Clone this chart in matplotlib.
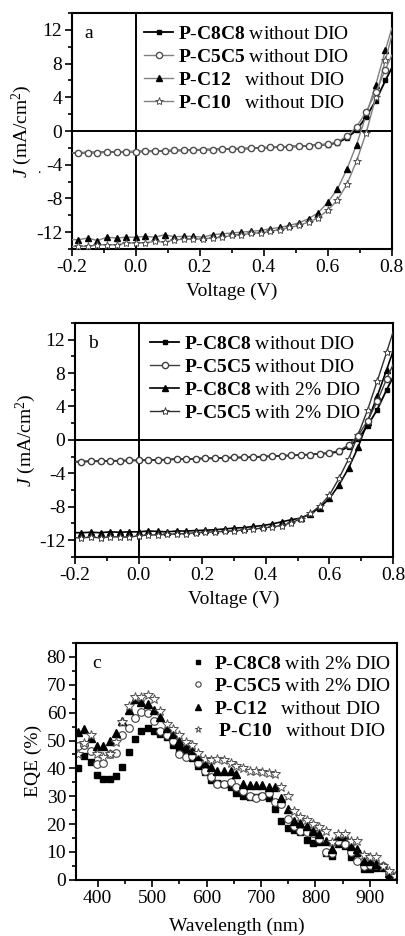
import matplotlib
matplotlib.use("Agg")
import matplotlib.pyplot as plt
from matplotlib.ticker import MultipleLocator

plt.rcParams['font.family'] = ['Liberation Serif', 'DejaVu Serif']
plt.rcParams['mathtext.fontset'] = 'custom'
plt.rcParams['mathtext.rm'] = 'Liberation Serif'
plt.rcParams['mathtext.it'] = 'Liberation Serif:italic'
plt.rcParams['mathtext.bf'] = 'Liberation Serif:bold'
plt.rcParams['axes.unicode_minus'] = False

# ---- J-V data (V sweep, markers every 0.03 V) ----
volt = [-0.20, -0.18, -0.15, -0.12, -0.09, -0.06, -0.03, 0.00, 0.03, 0.06, 0.09, 0.12,
        0.15, 0.18, 0.21, 0.24, 0.27, 0.30, 0.33, 0.36, 0.39, 0.42, 0.45, 0.48,
        0.51, 0.54, 0.57, 0.60, 0.63, 0.66, 0.69, 0.72, 0.75, 0.78, 0.80]

j_c8c8 = [-2.6, -2.6, -2.55, -2.55, -2.5, -2.5, -2.45, -2.45, -2.4, -2.4, -2.35, -2.3,
          -2.3, -2.25, -2.2, -2.2, -2.15, -2.1, -2.1, -2.05, -2.0, -1.95, -1.9, -1.85,
          -1.8, -1.75, -1.65, -1.6, -1.4, -0.8, 0.1, 1.7, 3.6, 6.0, 7.5]
j_c5c5 = [-2.6, -2.6, -2.55, -2.55, -2.5, -2.5, -2.45, -2.45, -2.4, -2.4, -2.35, -2.3,
          -2.3, -2.25, -2.2, -2.2, -2.15, -2.1, -2.1, -2.05, -2.0, -1.95, -1.9, -1.85,
          -1.8, -1.75, -1.65, -1.55, -1.3, -0.6, 0.5, 2.3, 4.6, 7.3, 9.0]
j_c12 = [-12.9, -12.9, -12.7, -13.0, -12.6, -12.7, -12.6, -12.6, -12.5, -12.6, -12.3, -12.55,
         -12.5, -12.5, -12.6, -12.3, -12.2, -12.1, -12.0, -11.9, -11.8, -11.6, -11.45, -11.2,
         -10.9, -10.4, -9.7, -8.45, -6.9, -4.5, -1.6, 1.9, 5.5, 9.6, 12.2]
j_c10 = [-13.7, -13.7, -13.7, -13.5, -13.5, -13.5, -13.3, -13.3, -13.25, -13.1, -13.2, -12.9,
         -12.85, -12.85, -12.8, -12.7, -12.6, -12.4, -12.3, -12.15, -12.1, -11.9, -11.7, -11.45,
         -11.2, -10.8, -10.3, -9.4, -8.2, -6.3, -3.55, -0.2, 4.0, 8.45, 11.3]
j_c8c8_dio = [-11.1, -11.1, -11.05, -11.1, -11.0, -11.05, -11.0, -11.0, -10.9, -10.95, -11.0, -10.9,
              -10.9, -10.85, -10.8, -10.75, -10.65, -10.55, -10.5, -10.35, -10.25, -10.05, -9.8, -9.55,
              -9.35, -8.85, -8.1, -7.0, -5.4, -3.4, -0.9, 2.2, 5.2, 8.4, 10.6]
j_c5c5_dio = [-11.7, -11.7, -11.65, -11.7, -11.6, -11.6, -11.65, -11.45, -11.4, -11.35, -11.3, -11.25,
              -11.2, -11.1, -11.05, -11.0, -10.95, -10.9, -10.75, -10.65, -10.55, -10.4, -10.25, -9.9,
              -9.45, -8.8, -7.9, -6.6, -4.6, -2.3, 0.6, 3.6, 7.0, 10.5, 12.9]

# ---- EQE data ----
wl = [364, 375, 387, 399, 410, 422, 434, 445, 457, 469, 480, 492, 504, 515, 527, 539, 550,
      562, 574, 585, 597, 609, 620, 632, 644, 655, 667, 679, 690, 702, 714, 725, 737, 749,
      760, 772, 784, 795, 807, 819, 830, 842, 854, 865, 877, 889, 900, 912, 924, 935, 947]
eqe_c8c8_dio = [40.2, 44.4, 42.3, 37.8, 36.3, 36.3, 37.2, 40.5, 46.0, 50.7, 53.4, 54.6, 53.4,
                52.4, 51.4, 48.3, 46.8, 45.6, 43.6, 41.0, 38.6, 36.0, 34.8, 34.5, 33.5, 31.0,
                30.0, 29.8, 29.8, 30.0, 29.2, 25.5, 21.2, 18.5, 17.8, 17.2, 14.3, 13.2, 13.5,
                9.5, 8.7, 12.9, 12.3, 8.3, 9.5, 3.9, 3.9, 4.2, 4.2, 1.8, 1.0]
eqe_c5c5_dio = [48.0, 48.5, 46.2, 41.5, 42.0, 45.0, 45.5, 52.0, 54.5, 58.0, 60.2, 59.8, 57.0,
                53.5, 52.0, 50.0, 45.0, 44.0, 44.5, 42.0, 39.0, 36.8, 34.5, 34.3, 35.0, 33.2,
                32.0, 30.0, 29.5, 30.2, 31.2, 28.0, 27.3, 21.8, 19.5, 17.5, 17.0, 16.8, 14.5,
                10.0, 9.8, 13.8, 13.0, 10.0, 6.6, 5.0, 5.2, 5.2, 4.8, 2.6, 0.8]
eqe_c12 = [53.0, 54.0, 51.0, 48.0, 48.2, 50.0, 52.8, 57.0, 61.0, 65.0, 64.0, 63.2, 61.0,
           58.5, 54.5, 52.5, 50.0, 48.5, 46.5, 44.5, 42.0, 40.5, 39.0, 39.0, 39.0, 38.0,
           34.5, 34.0, 34.0, 34.0, 33.5, 33.2, 29.5, 25.5, 21.0, 20.3, 19.5, 17.4, 16.6,
           14.0, 10.9, 15.9, 15.9, 12.3, 11.1, 6.9, 6.9, 5.8, 5.0, 2.3, 1.5]
eqe_c10 = [45.0, 49.0, 52.0, 45.0, 44.0, 45.0, 49.5, 56.5, 62.5, 65.5, 65.5, 66.5, 65.0,
           60.5, 56.0, 54.0, 52.0, 49.5, 48.5, 45.5, 43.5, 43.0, 43.5, 43.0, 42.0, 41.0,
           40.2, 39.0, 39.0, 38.6, 38.2, 38.0, 33.5, 30.0, 24.8, 22.5, 21.5, 20.2, 18.8,
           17.5, 13.5, 16.3, 16.3, 14.0, 13.9, 9.0, 8.3, 8.3, 5.0, 3.0, 1.5]

lab = {
    'c8c8_wo': r'$\mathbf{P\text{-}C8C8}$ without DIO',
    'c5c5_wo': r'$\mathbf{P\text{-}C5C5}$ without DIO',
    'c12_wo': r'$\mathbf{P\text{-}C12}$   without DIO',
    'c10_wo': r'$\mathbf{P\text{-}C10}$   without DIO',
    'c8c8_dio': r'$\mathbf{P\text{-}C8C8}$ with 2% DIO',
    'c5c5_dio': r'$\mathbf{P\text{-}C5C5}$ with 2% DIO',
}

fig = plt.figure(figsize=(4.06, 9.36), dpi=100)
ax_a = fig.add_axes([0.177, 0.734, 0.788, 0.252])
ax_b = fig.add_axes([0.185, 0.405, 0.783, 0.250])
ax_c = fig.add_axes([0.187, 0.060, 0.791, 0.253])

me = slice(1, -1)
TICK_FS = 14
LEG_FS = 14


def style_axis(ax):
    for s in ax.spines.values():
        s.set_linewidth(1.5)
    ax.tick_params(which='both', direction='out', top=False, right=False,
                   labelsize=TICK_FS, width=1.2, pad=2)
    ax.tick_params(which='major', length=5)
    ax.tick_params(which='minor', length=3)


def style_jv(ax, letter):
    ax.axhline(0, color='black', lw=1.4, zorder=1)
    ax.axvline(0, color='black', lw=1.4, zorder=1)
    ax.set_xlim(-0.2, 0.8)
    ax.set_ylim(-14, 14)
    ax.xaxis.set_major_locator(MultipleLocator(0.2))
    ax.xaxis.set_minor_locator(MultipleLocator(0.1))
    ax.yaxis.set_major_locator(MultipleLocator(4))
    ax.yaxis.set_minor_locator(MultipleLocator(2))
    ax.set_xticklabels([f'{t:.1f}' for t in ax.get_xticks()])
    ax.set_xlabel('Voltage (V)', fontsize=14, labelpad=5)
    ax.set_ylabel(r'$J$ (mA/cm$^2$)', fontsize=14, labelpad=1)
    ax.text(0.04, 0.95, letter, transform=ax.transAxes, fontsize=14, va='top')
    style_axis(ax)


def jv_legend(ax, x0):
    ax.legend(loc='upper left', bbox_to_anchor=(x0, 1.015), frameon=False, fontsize=LEG_FS,
              handlelength=1.5, handletextpad=0.25, labelspacing=0.28, borderpad=0.3)


# ---- panel a ----
ax_a.plot(volt, j_c8c8, color='black', lw=1.3, marker='s', ms=3.5, markevery=me,
          label=lab['c8c8_wo'], zorder=3)
ax_a.plot(volt, j_c5c5, color='#808080', lw=1.0, marker='o', ms=4.5, mfc='white',
          mec='#505050', markevery=me, label=lab['c5c5_wo'], zorder=4)
ax_a.plot(volt, j_c12, color='#808080', lw=1.0, marker='^', ms=5, mfc='black',
          mec='black', markevery=me, label=lab['c12_wo'], zorder=3)
ax_a.plot(volt, j_c10, color='#808080', lw=1.0, marker='*', ms=6, mfc='white',
          mec='#505050', mew=0.7, markevery=me, label=lab['c10_wo'], zorder=3)
style_jv(ax_a, 'a')
ax_a.text(-0.11, 0.32, '.', transform=ax_a.transAxes, fontsize=10)
jv_legend(ax_a, 0.177)

# ---- panel b ----
ax_b.plot(volt, j_c8c8, color='black', lw=1.3, marker='s', ms=3.5, markevery=me,
          label=lab['c8c8_wo'], zorder=3)
ax_b.plot(volt, j_c5c5, color='#404040', lw=1.0, marker='o', ms=4.5, mfc='white',
          mec='#404040', markevery=me, label=lab['c5c5_wo'], zorder=4)
ax_b.plot(volt, j_c8c8_dio, color='black', lw=1.2, marker='^', ms=5, mfc='black',
          mec='black', markevery=me, label=lab['c8c8_dio'], zorder=3)
ax_b.plot(volt, j_c5c5_dio, color='#303030', lw=1.0, marker='*', ms=6, mfc='white',
          mec='#404040', mew=0.7, markevery=me, label=lab['c5c5_dio'], zorder=3)
style_jv(ax_b, 'b')
jv_legend(ax_b, 0.187)

# ---- panel c ----
ax_c.plot(wl, eqe_c8c8_dio, ls='none', marker='s', ms=5, color='black', label=lab['c8c8_dio'])
ax_c.plot(wl, eqe_c5c5_dio, ls='none', marker='o', ms=5.5, mfc='white', mec='#404040',
          mew=0.8, label=lab['c5c5_dio'])
ax_c.plot(wl, eqe_c12, ls='none', marker='^', ms=6, color='black', label=lab['c12_wo'])
ax_c.plot(wl, eqe_c10, ls='none', marker='*', ms=7, mfc='white', mec='#505050',
          mew=0.7, label=' ' + lab['c10_wo'])
ax_c.set_xlim(360, 950)
ax_c.set_ylim(0, 85)
ax_c.xaxis.set_major_locator(MultipleLocator(100))
ax_c.xaxis.set_minor_locator(MultipleLocator(50))
ax_c.yaxis.set_major_locator(MultipleLocator(10))
ax_c.yaxis.set_minor_locator(MultipleLocator(5))
ax_c.set_xlabel('Wavelength (nm)', fontsize=14, labelpad=8)
ax_c.set_ylabel('EQE (%)', fontsize=14, labelpad=3)
ax_c.text(0.05, 0.95, 'c', transform=ax_c.transAxes, fontsize=14, va='top')
style_axis(ax_c)
ax_c.legend(loc='upper right', bbox_to_anchor=(1.03, 1.015), frameon=False, fontsize=LEG_FS,
            handlelength=0.8, handletextpad=0.4, labelspacing=0.25, borderpad=0.3,
            markerscale=0.7)

fig.savefig('out.png', dpi=100)
